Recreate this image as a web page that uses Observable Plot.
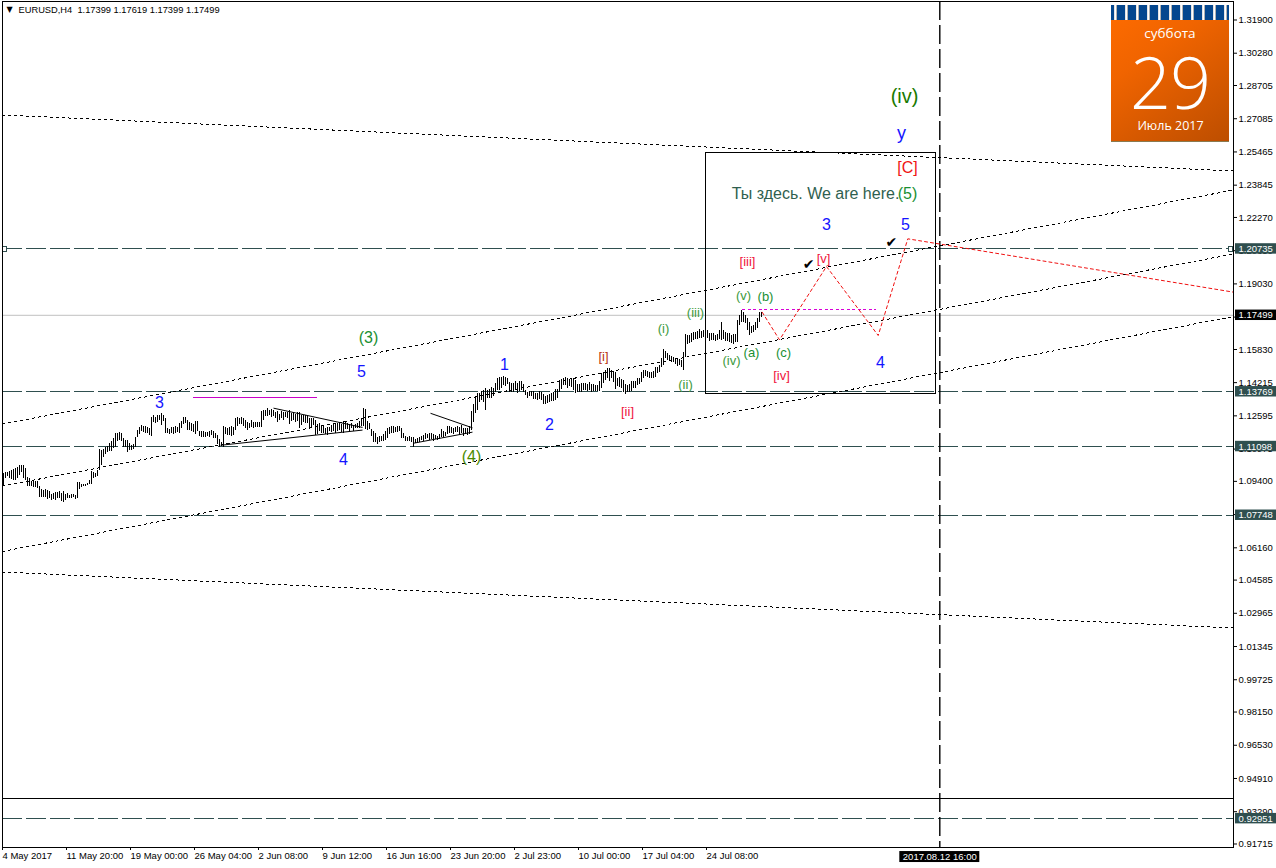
<!DOCTYPE html>
<html>
<head>
<meta charset="utf-8">
<script src="https://cdn.jsdelivr.net/npm/d3@7"></script>
<script src="https://cdn.jsdelivr.net/npm/@observablehq/plot@0.6"></script>
<style>
html,body{margin:0;padding:0;background:#fff;overflow:hidden}
#wrap{position:relative;width:1276px;height:868px}
#wrap svg{display:block}
#cal{position:absolute;left:1111px;top:5px;width:118px;height:137px;background:linear-gradient(145deg,#ff6c00 0%,#f06400 35%,#bd4e00 100%);color:#fff;text-align:center;font-family:"Open Sans","Noto Sans",sans-serif;overflow:hidden;border-bottom:1px solid #8a7a50;box-sizing:border-box}
#cal .strip{position:absolute;left:0;top:0;width:118px;height:15px;background:#04478f}
#cal .ring{position:absolute;top:0;width:3px;height:15px;background:linear-gradient(90deg,#d8d8d8,#fff,#8c8c8c)}
#cal .dow{position:absolute;left:0;right:0;top:20px;font-size:13.5px;line-height:16px}
#cal .day{position:absolute;left:0;right:0;top:42px;font-size:72px;line-height:68px;font-weight:300;letter-spacing:-1px}
#cal .mon{position:absolute;left:1px;right:0;top:113px;font-size:12.5px;line-height:16px}
</style>
</head>
<body>
<div id="wrap"></div>
<script>
const barHigh = [
1.0978,1.0983,1.0983,1.0988,1.0993,1.0998,1.1003,1.1007,1.1017,1.1017,1.1017,1.1003,1.0959,1.0954,1.0939,1.0939,1.0939,1.0939,1.0915,1.0900,
1.0895,1.0900,1.0895,1.0890,1.0876,1.0881,1.0885,1.0885,1.0890,1.0881,1.0890,1.0876,1.0881,1.0871,1.0876,1.0876,1.0871,1.0934,1.0934,1.0925,
1.0925,1.0925,1.0929,1.0944,1.0988,1.0983,1.0978,1.0993,1.1095,1.1090,1.1095,1.1105,1.1110,1.1125,1.1134,1.1149,1.1173,1.1173,1.1178,1.1173,
1.1149,1.1139,1.1139,1.1125,1.1115,1.1120,1.1154,1.1188,1.1203,1.1212,1.1207,1.1207,1.1203,1.1198,1.1251,1.1261,1.1251,1.1261,1.1261,1.1271,
1.1261,1.1246,1.1198,1.1193,1.1203,1.1203,1.1207,1.1203,1.1222,1.1232,1.1251,1.1251,1.1237,1.1227,1.1222,1.1217,1.1232,1.1232,1.1183,1.1183,
1.1183,1.1178,1.1178,1.1183,1.1188,1.1183,1.1173,1.1164,1.1144,1.1129,1.1207,1.1203,1.1198,1.1203,1.1207,1.1203,1.1246,1.1251,1.1246,1.1251,
1.1246,1.1237,1.1227,1.1222,1.1237,1.1227,1.1227,1.1227,1.1227,1.1280,1.1285,1.1285,1.1295,1.1285,1.1290,1.1285,1.1276,1.1280,1.1266,1.1280,
1.1276,1.1276,1.1276,1.1285,1.1271,1.1271,1.1266,1.1276,1.1276,1.1261,1.1261,1.1261,1.1261,1.1246,1.1246,1.1246,1.1237,1.1217,1.1222,1.1212,
1.1212,1.1198,1.1203,1.1203,1.1212,1.1222,1.1217,1.1222,1.1227,1.1217,1.1232,1.1227,1.1222,1.1217,1.1222,1.1212,1.1217,1.1222,1.1232,1.1246,
1.1295,1.1290,1.1232,1.1222,1.1193,1.1183,1.1173,1.1154,1.1159,1.1159,1.1168,1.1183,1.1198,1.1203,1.1207,1.1207,1.1203,1.1207,1.1207,1.1198,
1.1173,1.1159,1.1154,1.1159,1.1154,1.1154,1.1144,1.1149,1.1154,1.1159,1.1164,1.1173,1.1168,1.1173,1.1173,1.1168,1.1164,1.1159,1.1168,1.1193,
1.1183,1.1178,1.1207,1.1207,1.1203,1.1198,1.1203,1.1207,1.1203,1.1212,1.1198,1.1198,1.1198,1.1207,1.1280,1.1315,1.1349,1.1368,1.1368,1.1378,
1.1383,1.1393,1.1383,1.1388,1.1398,1.1393,1.1417,1.1442,1.1446,1.1446,1.1451,1.1446,1.1442,1.1422,1.1417,1.1417,1.1427,1.1417,1.1427,1.1427,
1.1412,1.1383,1.1373,1.1378,1.1378,1.1378,1.1368,1.1368,1.1378,1.1373,1.1363,1.1354,1.1359,1.1363,1.1368,1.1373,1.1388,1.1388,1.1432,1.1437,
1.1442,1.1446,1.1442,1.1437,1.1442,1.1442,1.1432,1.1412,1.1412,1.1417,1.1417,1.1417,1.1412,1.1422,1.1412,1.1412,1.1407,1.1407,1.1427,1.1466,
1.1471,1.1481,1.1490,1.1490,1.1481,1.1476,1.1471,1.1442,1.1446,1.1437,1.1432,1.1412,1.1407,1.1412,1.1427,1.1427,1.1427,1.1442,1.1442,1.1471,
1.1481,1.1481,1.1476,1.1471,1.1471,1.1476,1.1495,1.1495,1.1505,1.1539,1.1583,1.1573,1.1563,1.1554,1.1549,1.1544,1.1539,1.1539,1.1534,1.1529,
1.1568,1.1656,1.1651,1.1651,1.1661,1.1666,1.1666,1.1671,1.1681,1.1671,1.1676,1.1676,1.1676,1.1661,1.1661,1.1661,1.1651,1.1656,1.1676,1.1715,
1.1676,1.1666,1.1661,1.1661,1.1651,1.1656,1.1656,1.1725,1.1749,1.1773,1.1763,1.1749,1.1734,1.1715,1.1695,1.1700,1.1715,1.1734,1.1763,1.1762
];
const barLow = [
1.0920,1.0954,1.0964,1.0954,1.0949,1.0944,1.0944,1.0954,1.0969,1.0983,1.0954,1.0944,1.0915,1.0915,1.0915,1.0910,1.0910,1.0905,1.0861,1.0861,
1.0861,1.0861,1.0852,1.0856,1.0847,1.0852,1.0847,1.0856,1.0856,1.0842,1.0837,1.0847,1.0856,1.0856,1.0856,1.0861,1.0852,1.0856,1.0900,1.0910,
1.0915,1.0915,1.0920,1.0925,1.0925,1.0954,1.0959,1.0964,1.0993,1.1017,1.1056,1.1071,1.1081,1.1085,1.1085,1.1100,1.1105,1.1134,1.1139,1.1134,
1.1105,1.1105,1.1081,1.1090,1.1090,1.1095,1.1105,1.1154,1.1168,1.1183,1.1178,1.1173,1.1173,1.1164,1.1159,1.1227,1.1222,1.1227,1.1237,1.1212,
1.1232,1.1173,1.1173,1.1168,1.1173,1.1168,1.1173,1.1178,1.1173,1.1198,1.1217,1.1222,1.1188,1.1188,1.1183,1.1178,1.1168,1.1183,1.1159,1.1154,
1.1154,1.1154,1.1159,1.1154,1.1164,1.1149,1.1149,1.1120,1.1105,1.1110,1.1105,1.1168,1.1164,1.1164,1.1159,1.1164,1.1188,1.1207,1.1217,1.1217,
1.1207,1.1198,1.1188,1.1198,1.1203,1.1198,1.1203,1.1203,1.1203,1.1203,1.1237,1.1256,1.1256,1.1261,1.1251,1.1256,1.1246,1.1227,1.1237,1.1246,
1.1237,1.1251,1.1246,1.1217,1.1232,1.1237,1.1227,1.1232,1.1198,1.1212,1.1227,1.1222,1.1222,1.1198,1.1203,1.1212,1.1164,1.1168,1.1183,1.1173,
1.1173,1.1168,1.1164,1.1183,1.1178,1.1183,1.1173,1.1183,1.1188,1.1178,1.1173,1.1193,1.1193,1.1183,1.1198,1.1183,1.1198,1.1198,1.1198,1.1207,
1.1207,1.1193,1.1188,1.1193,1.1159,1.1129,1.1129,1.1120,1.1129,1.1134,1.1134,1.1139,1.1149,1.1168,1.1173,1.1173,1.1178,1.1178,1.1183,1.1149,
1.1149,1.1134,1.1134,1.1134,1.1129,1.1105,1.1125,1.1125,1.1129,1.1139,1.1134,1.1144,1.1149,1.1139,1.1144,1.1134,1.1144,1.1139,1.1144,1.1154,
1.1154,1.1159,1.1168,1.1173,1.1173,1.1168,1.1178,1.1178,1.1164,1.1173,1.1159,1.1168,1.1164,1.1168,1.1188,1.1227,1.1271,1.1285,1.1325,1.1334,
1.1325,1.1285,1.1344,1.1344,1.1344,1.1354,1.1373,1.1383,1.1383,1.1393,1.1407,1.1403,1.1412,1.1373,1.1373,1.1373,1.1383,1.1368,1.1378,1.1383,
1.1373,1.1359,1.1344,1.1354,1.1354,1.1339,1.1339,1.1334,1.1339,1.1334,1.1315,1.1315,1.1320,1.1325,1.1329,1.1329,1.1334,1.1344,1.1373,1.1388,
1.1407,1.1407,1.1393,1.1403,1.1398,1.1383,1.1368,1.1373,1.1373,1.1373,1.1383,1.1383,1.1378,1.1383,1.1373,1.1378,1.1378,1.1378,1.1378,1.1393,
1.1417,1.1432,1.1442,1.1427,1.1442,1.1422,1.1388,1.1403,1.1398,1.1393,1.1373,1.1363,1.1373,1.1373,1.1378,1.1393,1.1393,1.1407,1.1412,1.1422,
1.1442,1.1451,1.1446,1.1442,1.1442,1.1442,1.1446,1.1466,1.1471,1.1495,1.1505,1.1539,1.1529,1.1524,1.1519,1.1519,1.1510,1.1500,1.1505,1.1495,
1.1481,1.1544,1.1607,1.1612,1.1617,1.1627,1.1632,1.1632,1.1637,1.1637,1.1642,1.1637,1.1637,1.1622,1.1627,1.1627,1.1622,1.1627,1.1632,1.1627,
1.1632,1.1622,1.1622,1.1617,1.1612,1.1607,1.1617,1.1617,1.1700,1.1715,1.1715,1.1710,1.1676,1.1651,1.1661,1.1666,1.1676,1.1685,1.1715,1.1740
];

// Horizontal levels
const levelPrices = [1.20735, 1.13769, 1.11098, 1.07748, 0.92951];
const levelLabels = ["1.20735", "1.13769", "1.11098", "1.07748", "0.92951"];
const lastPrice = 1.17499;

// Sloped channel lines: bar index at the two ends and price at the two ends
const channelBar0 = [-0.5, -0.5, -0.5, -0.5, -0.5];
const channelBar1 = [615, 615, 615, 615, 615];
const channelP0 = [1.27267, 1.12197, 1.09174, 1.05984, 1.04979];
const channelP1 = [1.24536, 1.23609, 1.20488, 1.17440, 1.02248];

// Red forecast path
const forecastBars = [379.35, 388, 411.5, 437.35, 452.15, 615];
const forecastPrices = [1.17649, 1.16303, 1.19878, 1.16513, 1.21229, 1.18627];

// Solid triangle trend lines
const triBar0 = [108.5, 135, 213.5, 205];
const triBar1 = [179.5, 179.5, 234.5, 234.5];
const triP0 = [1.1116, 1.1297, 1.1272, 1.1126];
const triP1 = [1.1190, 1.1203, 1.1201, 1.1180];

// Magenta level segments
const magSolidBars = [95, 157];
const magSolidPrice = 1.13475;
const magDottedBars = [369.5, 436.5];
const magDottedPrice = 1.17767;

// Wave labels
const labelText  = ["3","(3)","5","4","(4)","1","2","[i]","[ii]","(i)","(ii)","(iii)","(iv)","(v)","(a)","(b)","(c)","[iii]","[iv]","[v]","3","5","4","y","(iv)","[C]","(5)","Ты здесь. We are here."];
const labelBar   = [78,182.5,179,170,234,250.5,273,300,312,330,341,346,364,370,374,381,390,372,389,410,411.5,451,438.5,449,450.5,452,452,406];
const labelPrice = [1.1325,1.1642,1.1476,1.1047,1.1061,1.1510,1.1217,1.1549,1.1281,1.1685,1.1412,1.1763,1.1529,1.1846,1.1568,1.1841,1.1568,1.2012,1.1456,1.2027,1.2193,1.2193,1.1520,1.2637,1.2817,1.2471,1.2344,1.2344];
const labelColor = ["#1414ff","#1a8f32","#1414ff","#1414ff","#4a8a00","#1414ff","#1414ff","#b8330f","#f0143c","#3c9a3c","#3c9a3c","#3c9a3c","#3c9a3c","#3c9a3c","#1a8f32","#1a8f32","#1a8f32","#f0143c","#f0143c","#f0143c","#1414ff","#1414ff","#1414ff","#1414ff","#1a7a00","#f01414","#1a8f32","#2f5f4f"];
const labelSize  = [16,16,16,16,16,16,16,13,13,13,13,13,13,13,13,13,13,13,13,13,16,16,16,18,20,16,16,16];

// Check marks
const checkBars = [402.5, 443.9];
const checkPrices = [1.1997, 1.2107];

// Axes
const yTicks = [1.31900,1.30280,1.28705,1.27085,1.25465,1.23845,1.22270,1.20650,1.19030,1.17410,1.15830,1.14215,1.12595,1.10975,1.09400,1.07780,1.06160,1.04585,1.02965,1.01345,0.99725,0.98150,0.96530,0.94910,0.93290,0.91715];
const xTickBars = [0,32,64,96,128,160,192,224,256,288,320,352];
const xTickLabels = ["4 May 2017","11 May 20:00","19 May 00:00","26 May 04:00","2 Jun 08:00","9 Jun 12:00","16 Jun 16:00","23 Jun 20:00","2 Jul 23:00","10 Jul 00:00","17 Jul 04:00","24 Jul 08:00"];
const cursorBar = 468.15;
const cursorLabel = "2017.08.12 16:00";
const paneDivider = 0.93917;
const boxBars = [351.25, 466.25];
const boxPrices = [1.25404, 1.13684];
const header = "EURUSD,H4  1.17399 1.17619 1.17399 1.17499";

const bars = barHigh.map((h, i) => ({i, h, l: barLow[i]}));
const channels = channelP0.map((p, i) => ({x1: channelBar0[i], x2: channelBar1[i], y1: p, y2: channelP1[i]}));
const tris = triP0.map((p, i) => ({x1: triBar0[i], x2: triBar1[i], y1: p, y2: triP1[i]}));
const labels = labelText.map((t, i) => ({t, x: labelBar[i], y: labelPrice[i], c: labelColor[i], s: labelSize[i]}));
const forecast = forecastBars.map((x, i) => ({x, y: forecastPrices[i]}));
const axisFont = '"Liberation Sans",sans-serif';
const tagBars = [616, 636.5];
const tagHeight = 0.00255;

const chart = Plot.plot({
  width: 1276, height: 868,
  marginLeft: 2, marginRight: 43, marginTop: 1, marginBottom: 21,
  style: {background: "#fff", fontFamily: axisFont, overflow: "visible"},
  x: {domain: [-0.5, 615], axis: null},
  y: {domain: [0.91544, 1.32802], axis: null},
  color: {type: "identity"},
  marks: [
    Plot.ruleY([lastPrice], {stroke: "#c0c0c0", strokeWidth: 1}),
    Plot.ruleY(levelPrices, {stroke: "#2f4f4f", strokeWidth: 1, strokeDasharray: "19.5 4.5", shapeRendering: "crispEdges"}),
    Plot.link(channels, {x1: "x1", x2: "x2", y1: "y1", y2: "y2", stroke: "#000", strokeWidth: 1, strokeDasharray: "3 3", shapeRendering: "crispEdges"}),
    Plot.ruleY([paneDivider], {stroke: "#000", strokeWidth: 1, shapeRendering: "crispEdges"}),
    Plot.ruleX([cursorBar], {stroke: "#000", strokeWidth: 1.4, strokeDasharray: "19 5"}),
    Plot.rect([0], {x1: boxBars[0], x2: boxBars[1], y1: boxPrices[0], y2: boxPrices[1], fill: "none", stroke: "#000", strokeWidth: 1, shapeRendering: "crispEdges"}),
    Plot.ruleX(bars, {x: "i", y1: "l", y2: "h", stroke: "#000", strokeWidth: 1, shapeRendering: "crispEdges"}),
    Plot.link(tris, {x1: "x1", x2: "x2", y1: "y1", y2: "y2", stroke: "#000", strokeWidth: 1}),
    Plot.ruleY([magSolidPrice], {x1: magSolidBars[0], x2: magSolidBars[1], stroke: "#c800c8", strokeWidth: 1, shapeRendering: "crispEdges"}),
    Plot.ruleY([magDottedPrice], {x1: magDottedBars[0], x2: magDottedBars[1], stroke: "#d800d8", strokeWidth: 1, strokeDasharray: "3 2.5", shapeRendering: "crispEdges"}),
    Plot.line(forecast, {x: "x", y: "y", stroke: "#f01010", strokeWidth: 1, strokeDasharray: "3 3"}),
    Plot.dot([levelPrices[0], levelPrices[0]], {x: (d, i) => [0.5, 613.5][i], y: d => d, symbol: "square", r: 2.8, fill: "#fff", stroke: "#2f4f4f", strokeWidth: 1, shapeRendering: "crispEdges"}),
    Plot.text(labels, {x: "x", y: "y", text: "t", fill: "c", fontSize: "s", fontFamily: '"Liberation Sans",sans-serif', textAnchor: "middle", lineAnchor: "middle"}),
    Plot.text(checkBars, {x: d => d, y: (d, i) => checkPrices[i], text: () => "✔", fill: "#000", fontSize: 14, fontFamily: '"DejaVu Sans",sans-serif', textAnchor: "middle", lineAnchor: "middle"}),
    Plot.axisY(yTicks, {anchor: "right", tickSize: 3, tickPadding: 2, tickFormat: d => d.toFixed(5), fontSize: 9.5, stroke: "#000", fill: "#000", label: null}),
    Plot.axisX(xTickBars, {anchor: "bottom", tickSize: 3, tickPadding: 2, tickFormat: (d, i) => xTickLabels[xTickBars.indexOf(d)], textAnchor: "start", dx: -1, fontSize: 9.5, fill: "#000", label: null}),
    Plot.frame({stroke: "#000", strokeWidth: 1, shapeRendering: "crispEdges"}),
    Plot.rect(levelPrices, {x1: tagBars[0], x2: tagBars[1], y1: d => d - tagHeight, y2: d => d + tagHeight, fill: "#2f4f4f"}),
    Plot.text(levelLabels, {x: tagBars[0] + 1.5, y: (d, i) => levelPrices[i], text: d => d, fill: "#fff", fontSize: 9.5, textAnchor: "start", lineAnchor: "middle"}),
    Plot.rect([lastPrice], {x1: tagBars[0], x2: tagBars[1], y1: d => d - tagHeight, y2: d => d + tagHeight, fill: "#000"}),
    Plot.text([lastPrice], {x: tagBars[0] + 1.5, y: d => d, text: d => d.toFixed(5), fill: "#fff", fontSize: 9.5, textAnchor: "start", lineAnchor: "middle"}),
    Plot.rect([cursorBar], {x1: d => d - 20, x2: d => d + 20, y1: 0.90811, y2: 0.91347, fill: "#000"}),
    Plot.text([cursorLabel], {x: cursorBar, y: 0.9108, text: d => d, fill: "#fff", fontSize: 9.5, textAnchor: "middle", lineAnchor: "middle"}),
    Plot.text(["▼"], {frameAnchor: "top-left", dx: 4, dy: 5, text: d => d, fontSize: 8, fill: "#000", fontFamily: '"DejaVu Sans",sans-serif'}),
    Plot.text([header], {frameAnchor: "top-left", dx: 16, dy: 5, text: d => d, fontSize: 9.3, fill: "#000", lineAnchor: "top"})
  ]
});
const wrap = document.getElementById("wrap");
wrap.appendChild(chart);

const cal = document.createElement("div");
cal.id = "cal";
const rings = d3.range(11).map(i => `<div class="ring" style="left:${3 + i * 11}px"></div>`).join("");
cal.innerHTML = `<div class="strip">${rings}</div><div class="dow">суббота</div><div class="day">29</div><div class="mon">Июль 2017</div>`;
wrap.appendChild(cal);
</script>
</body>
</html>
